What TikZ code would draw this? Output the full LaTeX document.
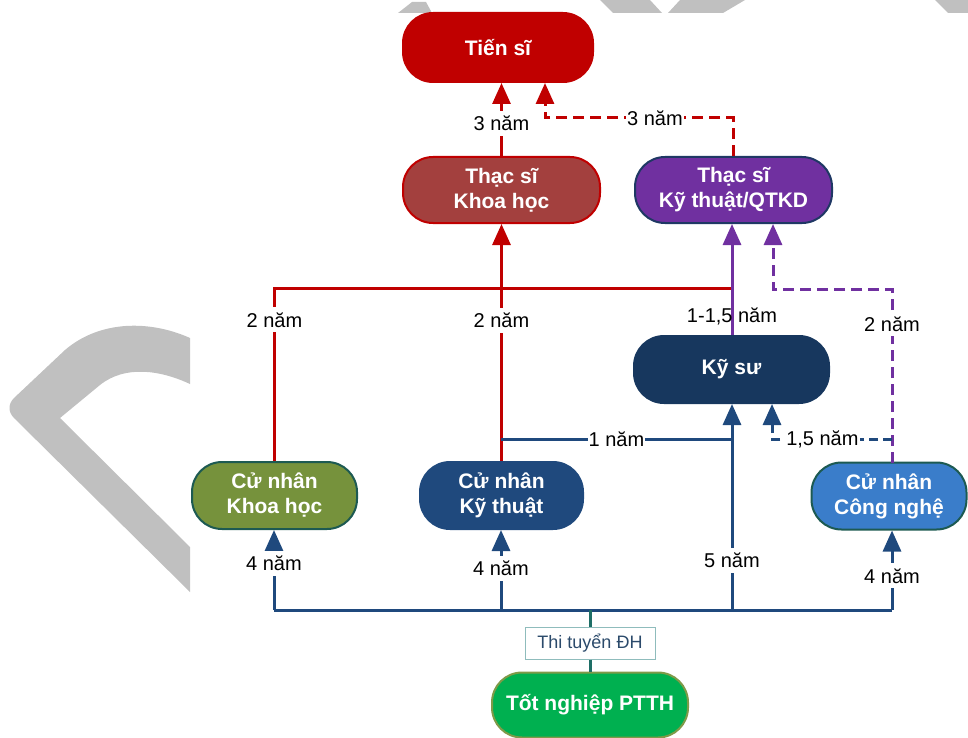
\documentclass[tikz,border=0pt]{standalone}
\usepackage{fontspec}
\setmainfont{Liberation Sans}
\usetikzlibrary{arrows.meta}

\definecolor{cTS}{HTML}{C00000}
\definecolor{cRed}{HTML}{C00000}
\definecolor{cTHKH}{HTML}{A3403E}
\definecolor{cPur}{HTML}{7030A0}
\definecolor{cNavy}{HTML}{1F3864}
\definecolor{cKS}{HTML}{17375E}
\definecolor{cCNKH}{HTML}{76923C}
\definecolor{cCNKT}{HTML}{1F497D}
\definecolor{cCNCN}{HTML}{3A7DCA}
\definecolor{cTealB}{HTML}{1D5A52}
\definecolor{cBlue}{HTML}{1F497D}
\definecolor{cLink}{HTML}{1E6E66}
\definecolor{cTN}{HTML}{00B050}
\definecolor{cTNb}{HTML}{7F9A48}
\definecolor{cThiB}{HTML}{8FBCBC}
\definecolor{cThiT}{HTML}{2B4A6B}
\definecolor{cWM}{HTML}{C0C0C0}

\tikzset{
  pill/.style={rectangle, rounded corners=30pt, line width=2pt, text=white,
    font=\bfseries\fontsize{21}{25}\selectfont, align=center, inner sep=0pt},
  lbl/.style={fill=white, text=black, font=\fontsize{20}{22}\selectfont,
    inner xsep=1pt, inner ysep=5pt},
  lblclear/.style={text=black, font=\fontsize{20}{22}\selectfont, inner sep=1pt},
  tip/.style={-{Triangle[length=21pt,width=18pt]}},
  redline/.style={draw=cRed, line width=3pt},
  reddash/.style={draw=cRed, line width=3pt, dash pattern=on 11pt off 6pt},
  purline/.style={draw=cPur, line width=3pt},
  purdash/.style={draw=cPur, line width=3pt, dash pattern=on 11pt off 6pt},
  blueline/.style={draw=cBlue, line width=3pt},
  bluedash/.style={draw=cBlue, line width=3pt, dash pattern=on 9pt off 5pt},
  linkline/.style={draw=cLink, line width=3pt},
  wm/.style={fill=cWM}
}

\begin{document}
\begin{tikzpicture}[x=1pt, y=-1pt]
\useasboundingbox (0,0) rectangle (968,738);

% grey page marks around the chart
\fill[wm] (190,338) .. controls (150,320) and (100,320) .. (65,350) -- (14,398)
  .. controls (8,404) and (8,412) .. (14,418) -- (190,592) -- (190,547) -- (60,418)
  -- (100,385) .. controls (125,365) and (160,370) .. (190,384) -- cycle;
\fill[wm] (398,13) -- (412,2) -- (426,2) -- (432,13) -- cycle;
\fill[wm] (600,0) -- (650,0) -- (662,13) -- (613,13) -- cycle;
\fill[wm] (680,0) -- (745,0) -- (723,13) -- (668,13) -- cycle;
\fill[wm] (935,0) -- (968,0) -- (968,13) -- (948,13) -- cycle;

% degrees
\node[pill, fill=cTS, draw=cTS, minimum width=190pt, minimum height=69pt] (ts) at (498,47.5) {Tiến sĩ};
\node[pill, fill=cTHKH, draw=cRed, minimum width=197pt, minimum height=66pt] (thkh) at (501.5,190) {Thạc sĩ\\Khoa học};
\node[pill, fill=cPur, draw=cNavy, minimum width=197pt, minimum height=66pt] (thkt) at (733.5,190) {Thạc sĩ\\Kỹ thuật/QTKD};
\node[pill, fill=cKS, draw=cKS, minimum width=195pt, minimum height=67pt] (ks) at (731.5,369.5) {Kỹ sư};
\node[pill, fill=cCNKH, draw=cTealB, minimum width=165pt, minimum height=67pt] (cnkh) at (274.5,495.5) {Cử nhân\\Khoa học};
\node[pill, fill=cCNKT, draw=cCNKT, minimum width=163pt, minimum height=67pt] (cnkt) at (501.5,495.5) {Cử nhân\\Kỹ thuật};
\node[pill, fill=cCNCN, draw=cTealB, minimum width=155pt, minimum height=67pt] (cncn) at (889,496) {Cử nhân\\Công nghệ};
\node[draw=cThiB, fill=white, line width=1pt, minimum width=130pt, minimum height=32pt,
      text=cThiT, font=\fontsize{18}{20}\selectfont, inner sep=0pt] (thi) at (590,643) {Thi tuyển ĐH};
\node[pill, fill=cTN, draw=cTNb, minimum width=196pt, minimum height=65pt] (tn) at (590,705) {Tốt nghiệp PTTH};

% junction points
\coordinate (bKH) at (274,610);
\coordinate (bKT) at (501,610);
\coordinate (bKS) at (732,610);
\coordinate (bCN) at (892,610);
\coordinate (bMid) at (590,610);
\coordinate (jKT) at (501,439);
\coordinate (jCN) at (892,439);
\coordinate (cnTop) at (892,463);

% to Tien si
\draw[redline, tip] (thkh.north) -- node[lbl, pos=0.45]{3 năm} (thkh.north |- ts.south);
\draw[reddash, tip] (thkt.north -| 733,0) -- (733,118) -- node[lbl, pos=0.415]{3 năm} (545,118) -- (ts.south -| 545,0);

% to Thac si Khoa hoc
\draw[redline, tip] (cnkt.north) -- node[lbl, pos=0.594]{2 năm} (thkh.south);
\draw[redline] (cnkh.north) -- node[lbl, pos=0.816]{2 năm} (cnkh.north |- 0,288) -- (732,288);

% to Thac si Ky thuat/QTKD
\draw[purline, tip] (ks.north -| 732,0) -- node[lblclear, pos=0.17]{1-1,5 năm} (thkt.south -| 732,0);
\draw[purdash, tip] (cnTop) -- node[lbl, pos=0.80]{2 năm} (892,289) -- (773,289) -- (thkt.south -| 773,0);

% to Ky su
\draw[bluedash, tip] (jCN) -- node[lbl, pos=0.58]{1,5 năm} (772,439) -- (ks.south -| 772,0);
\draw[blueline] (jKT) -- node[lbl, pos=0.5]{1 năm} (732,439);
\draw[blueline, tip] (bKS) -- node[lbl, pos=0.24]{5 năm} (ks.south -| bKS);

% entrance level
\draw[blueline] (bKH) -- (bCN);
\draw[blueline, tip] (bKH) -- node[lbl, pos=0.58]{4 năm} (cnkh.south -| bKH);
\draw[blueline, tip] (bKT) -- node[lbl, pos=0.52]{4 năm} (cnkt.south -| bKT);
\draw[blueline, tip] (bCN) -- node[lbl, pos=0.43]{4 năm} (cncn.south -| bCN);
\draw[linkline] (bMid) -- (thi.north);
\draw[linkline] (thi.south) -- (tn.north);
\end{tikzpicture}
\end{document}
